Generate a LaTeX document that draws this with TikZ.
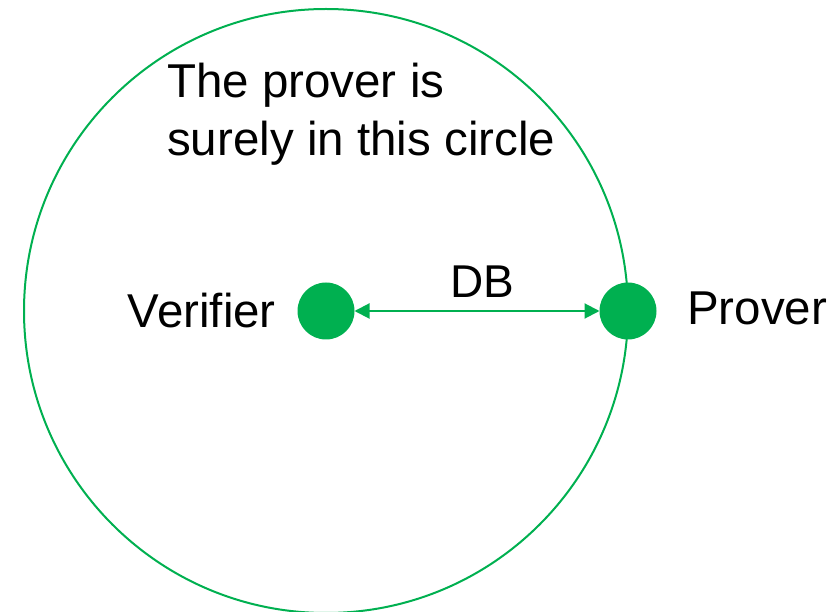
\documentclass[tikz,border=0pt]{standalone}
\usepackage{fontspec}
\setmainfont{Liberation Sans}
\usetikzlibrary{arrows.meta}
\definecolor{ogreen}{HTML}{00B050}
\begin{document}
\begin{tikzpicture}[x=1pt,y=-1pt,
  lbl/.style={inner sep=0pt, font=\fontsize{47.5}{48}\selectfont},
  dblbl/.style={inner sep=0pt, font=\fontsize{46}{48}\selectfont},
  dot/.style={circle, fill=ogreen, minimum size=57pt, inner sep=0pt, outer sep=0pt},
  ring/.style={circle, draw=ogreen, line width=2pt, minimum size=604pt, inner sep=0pt, outer sep=0pt},
  link/.style={draw=ogreen, line width=2pt, {Triangle[length=15pt,width=15pt]}-{Triangle[length=15pt,width=15pt]}}]
\useasboundingbox (0,0) rectangle (839,612);
\node[ring] (ring) at (326,311) {};
\node[dot] (ver) at (326,311) {};
\node[dot] (prov) at (628,311) {};
\draw[link] (ver) -- (prov);
\node[lbl, anchor=base east] (verlbl) at (276,328) {Verifier};
\node[lbl, anchor=base west] (provlbl) at (687,325) {Prover};
\node[dblbl, anchor=base] (db) at (482,298) {DB};
\node[lbl, anchor=base west] (t1) at (167,98) {The prover is};
\node[lbl, anchor=base west] (t2) at (167,156) {surely in this circle};
\end{tikzpicture}
\end{document}
